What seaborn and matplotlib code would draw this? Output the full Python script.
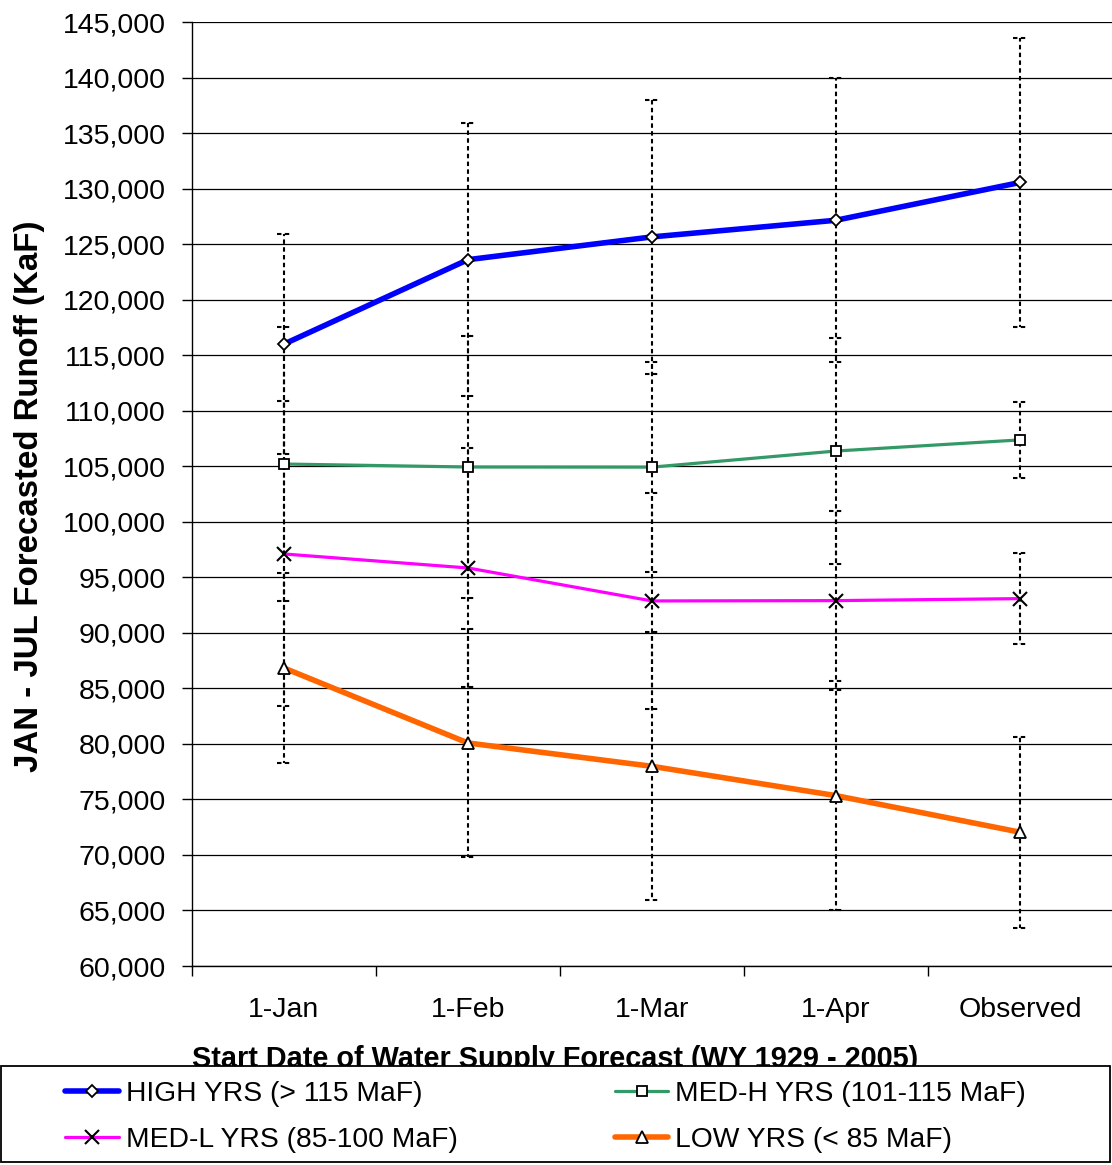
import numpy as np
import pandas as pd
import matplotlib
matplotlib.use("Agg")
import matplotlib.pyplot as plt
from matplotlib.ticker import FuncFormatter, FixedLocator
from matplotlib.patches import Rectangle
import seaborn as sns

# ---------------- data ----------------
categories = ["1-Jan", "1-Feb", "1-Mar", "1-Apr", "Observed"]

high = [116000, 123600, 125650, 127150, 130550]
medh = [105200, 104930, 104920, 106370, 107370]
medl = [97100, 95840, 92870, 92900, 93080]
low = [86830, 80080, 77980, 75340, 72050]

err_high = [9880, 12270, 12350, 12780, 12970]
err_medh = [12350, 11820, 9440, 10170, 3420]
err_medl = [13730, 10760, 9700, 8050, 4070]
err_low = [8560, 10270, 12060, 10330, 8590]

series_names = ["HIGH YRS (> 115 MaF)", "MED-H YRS (101-115 MaF)",
                "MED-L YRS (85-100 MaF)", "LOW YRS (< 85 MaF)"]
x_label = "Start Date of Water Supply Forecast (WY 1929 - 2005)"
y_label = "JAN - JUL Forecasted Runoff (KaF)"
y_ticks = list(range(60000, 145001, 5000))

# ---------------- style ----------------
sns.set_theme(style="white")
plt.rcParams["font.family"] = ["Liberation Sans", "DejaVu Sans"]
plt.rcParams["text.color"] = "black"
plt.rcParams["axes.labelcolor"] = "black"

W, H, DPI = 1112, 1165, 100
fig = plt.figure(figsize=(W / DPI, H / DPI), dpi=DPI)
ax = fig.add_axes([192 / W, 1 - 966 / H, (W - 192) / W, (966 - 22) / H])

values = [high, medh, medl, low]
errors = [err_high, err_medh, err_medl, err_low]
colors = ["#0000FF", "#339966", "#FF00FF", "#FF6600"]
widths = [4.0, 2.3, 2.3, 4.0]
markers = ["D", "s", "x", "^"]
msizes = [6.5, 7, 10, 8]

ax.set_xlim(-0.5, 4.5)
ax.set_ylim(60000, 145000)

# grid
ax.yaxis.set_major_locator(FixedLocator(y_ticks))
ax.grid(axis="y", color="black", linewidth=0.9)
ax.grid(axis="x", visible=False)
ax.set_axisbelow(True)

# error bars (dotted), aligned dash phase
xpos = np.arange(len(categories))
fig.canvas.draw()
lw_e = 1.5
on, off = 3.2 / lw_e, 2.4 / lw_e
y_ref = ax.transData.transform((0, 145000))[1]
cap_w = 0.036
for vals, errs in zip(values, errors):
    for xi, v, e in zip(xpos, vals, errs):
        hi, lo = v + e, v - e
        d_px = y_ref - ax.transData.transform((0, hi))[1]
        offset = (d_px * 72 / DPI) / lw_e
        ax.plot([xi, xi], [hi, lo], color="black", linewidth=lw_e,
                linestyle=(offset, (on, off)), zorder=2,
                solid_capstyle="butt", dash_capstyle="butt")
        for yc in (hi, lo):
            ax.plot([xi - cap_w, xi + cap_w], [yc, yc], color="black",
                    linewidth=lw_e, linestyle=(0, (on, off)), zorder=2,
                    dash_capstyle="butt")

# lines
for vals, name, c, lw, m, ms in zip(values, series_names, colors, widths, markers, msizes):
    df = pd.DataFrame({"date": categories, "runoff": vals})
    kw = dict(marker=m, markersize=ms, markeredgecolor="black")
    if m == "x":
        kw.update(markeredgewidth=1.5, markerfacecolor="black")
    else:
        kw.update(markeredgewidth=1.3, markerfacecolor="white")
    sns.lineplot(data=df, x="date", y="runoff", sort=False, color=c,
                 linewidth=lw, ax=ax, label=name, legend=False, zorder=3, **kw)
if ax.get_legend() is not None:
    ax.get_legend().remove()

ax.set_xlim(-0.5, 4.5)
ax.set_ylim(60000, 145000)
ax.yaxis.set_major_locator(FixedLocator(y_ticks))
ax.yaxis.set_major_formatter(FuncFormatter(lambda v, p: f"{v:,.0f}"))

# spines
for s in ["top", "right"]:
    ax.spines[s].set_visible(False)
for s in ["left", "bottom"]:
    ax.spines[s].set_color("black")
    ax.spines[s].set_linewidth(1.0)

ax.set_xticks(xpos)
ax.set_xticklabels(categories)
ax.set_xticks(np.arange(-0.5, 4.0, 1.0), minor=True)
ax.tick_params(axis="x", which="major", length=0, pad=22, labelsize=20.5, colors="black")
ax.tick_params(axis="x", which="minor", length=7, width=1.0, color="black", bottom=True)
ax.tick_params(axis="y", which="major", left=True, length=7, width=1.0, pad=12,
               labelsize=20.5, colors="black")
ax.set_xlabel("")
ax.set_ylabel("")

fig.text(30 / W, 1 - 496 / H, y_label, rotation=90, ha="center", va="center",
         fontsize=23.8, fontweight="bold", color="black")
fig.text(555 / W, 1 - 1067 / H, x_label, ha="center", va="baseline",
         fontsize=20.8, fontweight="bold", zorder=3, color="black")

# legend frame (covers the bottom of the x label as in the reference)
rect = Rectangle((0.5 / W, 1 - 1162 / H), 1109 / W, (1162 - 1066) / H,
                 transform=fig.transFigure, facecolor="white", edgecolor="black",
                 linewidth=1.3, zorder=4)
fig.add_artist(rect)

handles, labels = ax.get_legend_handles_labels()
order = [0, 2, 1, 3]  # row-major order: HIGH, MED-H / MED-L, LOW
leg = fig.legend([handles[i] for i in order], [labels[i] for i in order],
                 loc="center left",
                 bbox_to_anchor=(65 / W, 1 - 1117 / H), ncol=2, frameon=False,
                 fontsize=20.3, handlelength=1.9, handletextpad=0.25,
                 columnspacing=5.58, labelspacing=0.72, borderpad=0, borderaxespad=0,
                 numpoints=1, labelcolor="black")
leg.set_zorder(5)

fig.savefig("out.png", dpi=DPI)
